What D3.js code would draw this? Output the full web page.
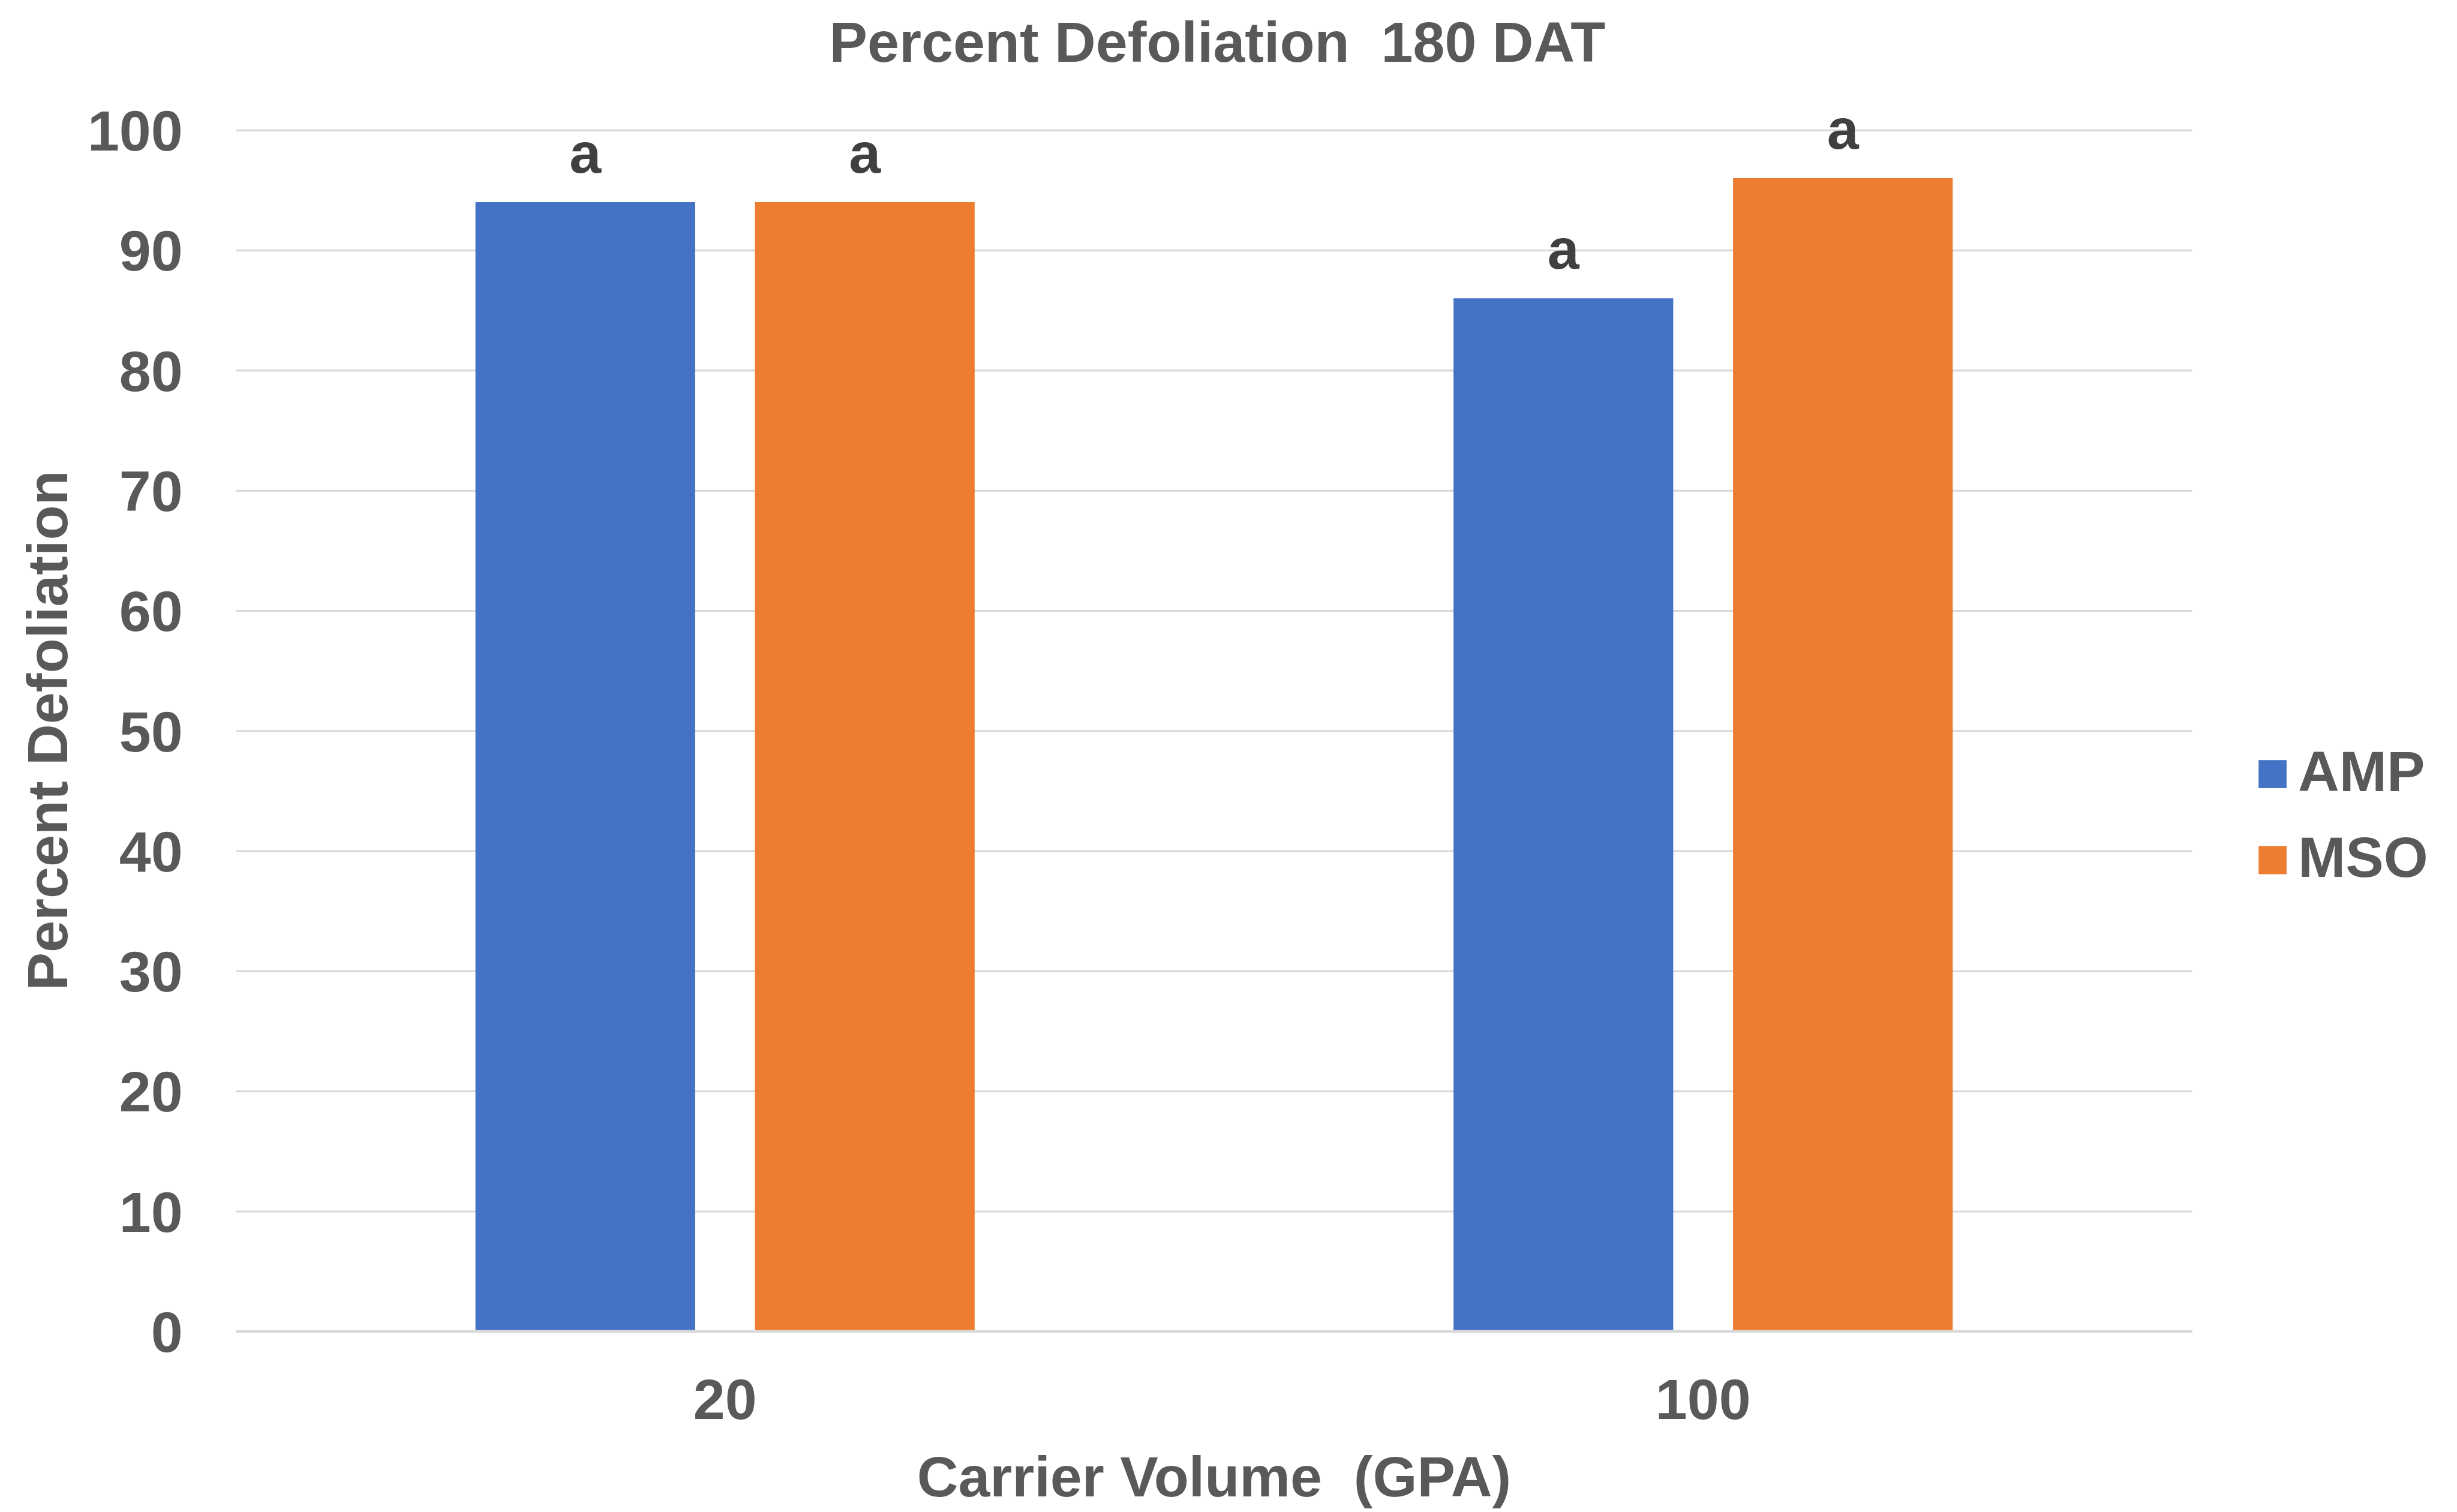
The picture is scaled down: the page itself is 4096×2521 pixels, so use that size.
<!DOCTYPE html>
<html>
<head>
<meta charset="utf-8">
<script src="https://cdn.jsdelivr.net/npm/d3@7/dist/d3.min.js"></script>
<style>
  html, body { margin: 0; padding: 0; background: #ffffff; }
  svg { display: block; }
  text { font-family: "Liberation Sans", Arial, sans-serif; font-weight: bold; }
</style>
</head>
<body>
<script>
// Percent defoliation 180 days after treatment, by carrier volume and adjuvant
const categories = ["20", "100"];
const seriesNames = ["AMP", "MSO"];
const ampValues = [94, 86];
const msoValues = [94, 96];
const ampLetters = ["a", "a"];
const msoLetters = ["a", "a"];
const yTickValues = [0, 10, 20, 30, 40, 50, 60, 70, 80, 90, 100];
const seriesColors = ["#4472C4", "#ED7D31"];

const chartTitle = "Percent Defoliation  180 DAT";
const xTitle = "Carrier Volume  (GPA)";
const yTitle = "Percent Defoliation";

// Layout is laid out on a 4472 x 2752 grid and scaled down by K
const K = 0.915;
const W = 4096, H = 2521;
const FONT = 104 * K;
const TEXT = "#595959";

const plot = { left: 430 * K, right: 3994 * K, top: 237 * K, bottom: 2426 * K };

const svg = d3.select("body").append("svg")
  .attr("width", W).attr("height", H)
  .attr("viewBox", `0 0 ${W} ${H}`);

svg.append("rect").attr("width", W).attr("height", H).attr("fill", "#ffffff");

const y = d3.scaleLinear().domain([0, 100]).range([plot.bottom, plot.top]);
const x0 = d3.scaleBand().domain(categories)
  .range([plot.left, plot.right])
  .paddingInner(0.4896).paddingOuter(0.2448);
const x1 = d3.scaleBand().domain(seriesNames)
  .range([0, x0.bandwidth()])
  .paddingInner(0.214);

// Horizontal gridlines with value labels
const yAxis = svg.append("g")
  .attr("transform", `translate(${plot.left},0)`)
  .call(d3.axisLeft(y).tickValues(yTickValues)
    .tickSize(-(plot.right - plot.left))
    .tickPadding(97 * K));
yAxis.select(".domain").remove();
yAxis.selectAll(".tick line")
  .attr("stroke", "#d9d9d9").attr("stroke-width", 3.5 * K);
yAxis.selectAll(".tick text")
  .attr("fill", TEXT).attr("font-size", FONT)
  .attr("dy", "0.355em")
  .style("font-family", "'Liberation Sans', Arial, sans-serif")
  .style("font-weight", "bold");

// Bars
const rows = categories.map((c, i) => ({
  category: c,
  values: [
    { series: "AMP", value: ampValues[i], letter: ampLetters[i] },
    { series: "MSO", value: msoValues[i], letter: msoLetters[i] }
  ]
}));
const color = d3.scaleOrdinal().domain(seriesNames).range(seriesColors);

const groups = svg.append("g").selectAll("g")
  .data(rows).join("g")
  .attr("transform", d => `translate(${x0(d.category)},0)`);

groups.selectAll("rect")
  .data(d => d.values).join("rect")
  .attr("x", d => x1(d.series))
  .attr("y", d => y(d.value))
  .attr("width", x1.bandwidth())
  .attr("height", d => y(0) - y(d.value))
  .attr("fill", d => color(d.series));

// Mean separation letters
groups.selectAll("text.letter")
  .data(d => d.values).join("text")
  .attr("class", "letter")
  .attr("x", d => x1(d.series) + x1.bandwidth() / 2)
  .attr("y", d => y(d.value) - 54 * K)
  .attr("text-anchor", "middle")
  .attr("font-size", FONT)
  .attr("fill", "#404040")
  .text(d => d.letter);

// Category axis
const xAxis = svg.append("g")
  .attr("transform", `translate(0,${plot.bottom})`)
  .call(d3.axisBottom(x0).tickSize(0));
xAxis.select(".domain")
  .attr("stroke", "#d9d9d9").attr("stroke-width", 5 * K)
  .attr("d", `M${plot.left},0H${plot.right}`);
xAxis.selectAll(".tick text")
  .attr("dy", null)
  .attr("y", 160 * K)
  .attr("fill", TEXT).attr("font-size", FONT)
  .style("font-family", "'Liberation Sans', Arial, sans-serif")
  .style("font-weight", "bold");

// Titles
svg.append("text")
  .attr("x", 2218 * K).attr("y", 113 * K)
  .attr("text-anchor", "middle")
  .attr("font-size", FONT).attr("fill", TEXT)
  .style("white-space", "pre")
  .text(chartTitle);

svg.append("text")
  .attr("x", (plot.left + plot.right) / 2).attr("y", 2727 * K)
  .attr("text-anchor", "middle")
  .attr("font-size", FONT).attr("fill", TEXT)
  .style("white-space", "pre")
  .text(xTitle);

svg.append("text")
  .attr("transform", `translate(${122 * K},${1331 * K}) rotate(-90)`)
  .attr("text-anchor", "middle")
  .attr("font-size", FONT).attr("fill", TEXT)
  .text(yTitle);

// Legend
const legend = svg.append("g").selectAll("g")
  .data(seriesNames).join("g")
  .attr("transform", (d, i) => `translate(${4115 * K},${(1385 + i * 157) * K})`);
legend.append("rect")
  .attr("width", 51 * K).attr("height", 51 * K)
  .attr("fill", d => color(d));
legend.append("text")
  .attr("x", 72 * K).attr("y", 56 * K)
  .attr("font-size", FONT).attr("fill", TEXT)
  .text(d => d);
</script>
</body>
</html>
